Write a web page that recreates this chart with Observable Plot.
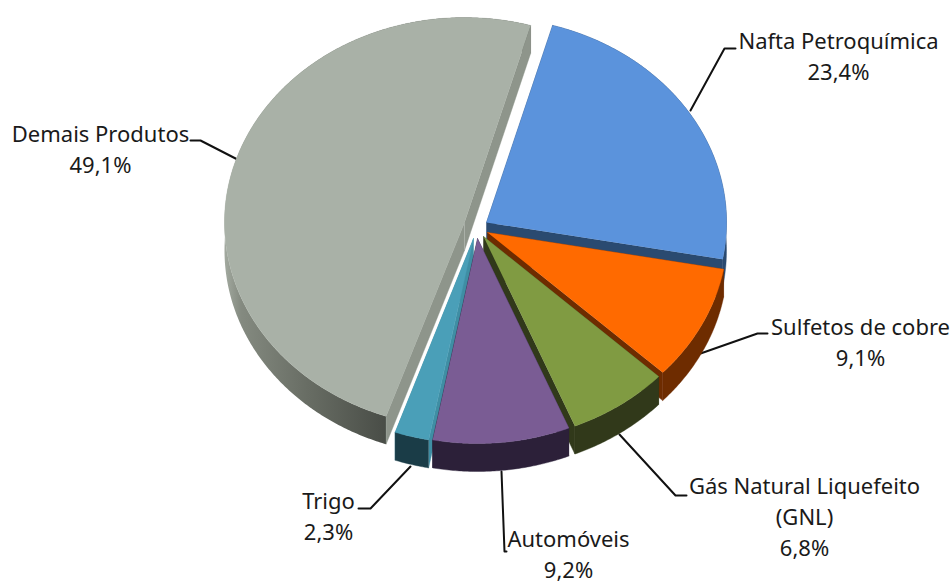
<!DOCTYPE html>
<html>
<head>
<meta charset="utf-8">
<script src="https://cdn.jsdelivr.net/npm/d3@7"></script>
<script src="https://cdn.jsdelivr.net/npm/@observablehq/plot@0.6"></script>
<style>
html,body{margin:0;padding:0;background:#fff}
svg{display:block}
</style>
</head>
<body>
<div id="chart"></div>
<script>
const categories = ["Demais Produtos","Nafta Petroquímica","Sulfetos de cobre","Gás Natural Liquefeito (GNL)","Automóveis","Trigo"];
const shares = [49.1,23.4,9.1,6.8,9.2,2.3];
const faceColors = ["#a9b1a7","#5b93dc","#ff6a00","#809b42","#7a5c94","#4a9fb8"];
const sideColors = ["#8e958b","#2a4a70","#6e2c00","#31391a","#2c2039","#3f8ea4"];
const wallColors = ["url(#greyWall)","#2a4a70","#6e2c00","#31391a","#2c2039","#1a3c47"];

// Text of the callouts
const labelLines = [
  ["Demais Produtos","49,1%"],
  ["Nafta Petroquímica","23,4%"],
  ["Sulfetos de cobre","9,1%"],
  ["Gás Natural Liquefeito","(GNL)","6,8%"],
  ["Automóveis","9,2%"],
  ["Trigo","2,3%"]
];

// Layout, in the pixel units of the identity x and y scales
const rx = 240, ry = 205, depth = 28, startDeg = 16;
const apexes = [[464,222],[486,222],[487,232],[483,236],[477,238],[473,238]];
const labelAt = [[100,140],[838,47],[860,333],[804,492],[568,545],[328,507]];
const lineGap = 31;
const leaders = [
  [[237,159],[200,140],[190,140]],
  [[690,110],[724,48],[735,48]],
  [[700,353],[757,333],[767,333]],
  [[619,434],[675,495],[686,495]],
  [[501,471],[504,551],[506,551]],
  [[410,466],[370,508],[358,508]]
];

// Clockwise order of the slices round the pie, from the starting angle
const clockwise = ["Nafta Petroquímica","Sulfetos de cobre","Gás Natural Liquefeito (GNL)","Automóveis","Trigo","Demais Produtos"];
const total = d3.sum(shares);
const spans = new Map();
let cursor = startDeg;
for (const name of clockwise) {
  const sweep = shares[categories.indexOf(name)] / total * 360;
  spans.set(name, [cursor, cursor + sweep]);
  cursor += sweep;
}

// Draw order, back to front
const drawOrder = [0,1,2,3,5,4];
const rad = d => d * Math.PI / 180;
const rim = (apex, deg, drop = 0) => ({x: apex[0] + rx * Math.sin(rad(deg)), y: apex[1] - ry * Math.cos(rad(deg)) + drop});
const shifted = (apex, drop = 0) => ({x: apex[0], y: apex[1] + drop});
function arc(apex, a0, a1, drop = 0) {
  const n = Math.max(2, Math.ceil(Math.abs(a1 - a0) * 2));
  return d3.range(n + 1).map(i => rim(apex, a0 + (a1 - a0) * i / n, drop));
}

const poly = (pts, fill) => Plot.line(pts, {x: "x", y: "y", fill, stroke: fill.startsWith("url") ? "none" : fill, strokeWidth: 0.4, curve: "linear"});
const pieMarks = drawOrder.flatMap(i => {
  const [a0, a1] = spans.get(categories[i]);
  const apex = apexes[i];
  const sides = [
    poly([shifted(apex), rim(apex, a0), rim(apex, a0, depth), shifted(apex, depth)], sideColors[i]),
    poly([shifted(apex), rim(apex, a1), rim(apex, a1, depth), shifted(apex, depth)], sideColors[i])
  ];
  const wall = poly([...arc(apex, a0, a1), ...arc(apex, a1, a0, depth)], wallColors[i]);
  const face = poly([shifted(apex), ...arc(apex, a0, a1)], faceColors[i]);
  return i === 0 ? [wall, ...sides, face] : [...sides, wall, face];
});

const gradient = () => {
  const svg = d3.create("svg:g");
  const g = svg.append("defs").append("linearGradient")
    .attr("id", "greyWall").attr("gradientUnits", "userSpaceOnUse")
    .attr("x1", 224).attr("x2", 390).attr("y1", 0).attr("y2", 0);
  [[0,"#a3aaa0"],[0.1,"#848a80"],[0.5,"#686d64"],[1,"#474b45"]].forEach(([o,c]) =>
    g.append("stop").attr("offset", o).attr("stop-color", c));
  return svg.node();
};

const textRows = labelLines.flatMap((lines, i) => lines.map((t, k) => ({t, x: labelAt[i][0], y: labelAt[i][1] + k * lineGap})));

const chart = Plot.plot({
  width: 952,
  height: 582,
  margin: 0,
  x: {domain: [0, 952], range: [0, 952], axis: null},
  y: {domain: [0, 582], range: [0, 582], axis: null},
  style: {background: "#fff", fontFamily: "'Noto Sans', sans-serif", fontSize: "22px"},
  marks: [
    gradient,
    ...leaders.map(l => Plot.line(l, {x: d => d[0], y: d => d[1], stroke: "#111", strokeWidth: 2, curve: "linear"})),
    ...pieMarks,
    Plot.text(textRows, {x: "x", y: "y", text: "t", lineAnchor: "bottom", dy: 1, fill: "#1a1a1a", fontSize: 22})
  ]
});
document.getElementById("chart").append(chart);
</script>
</body>
</html>
